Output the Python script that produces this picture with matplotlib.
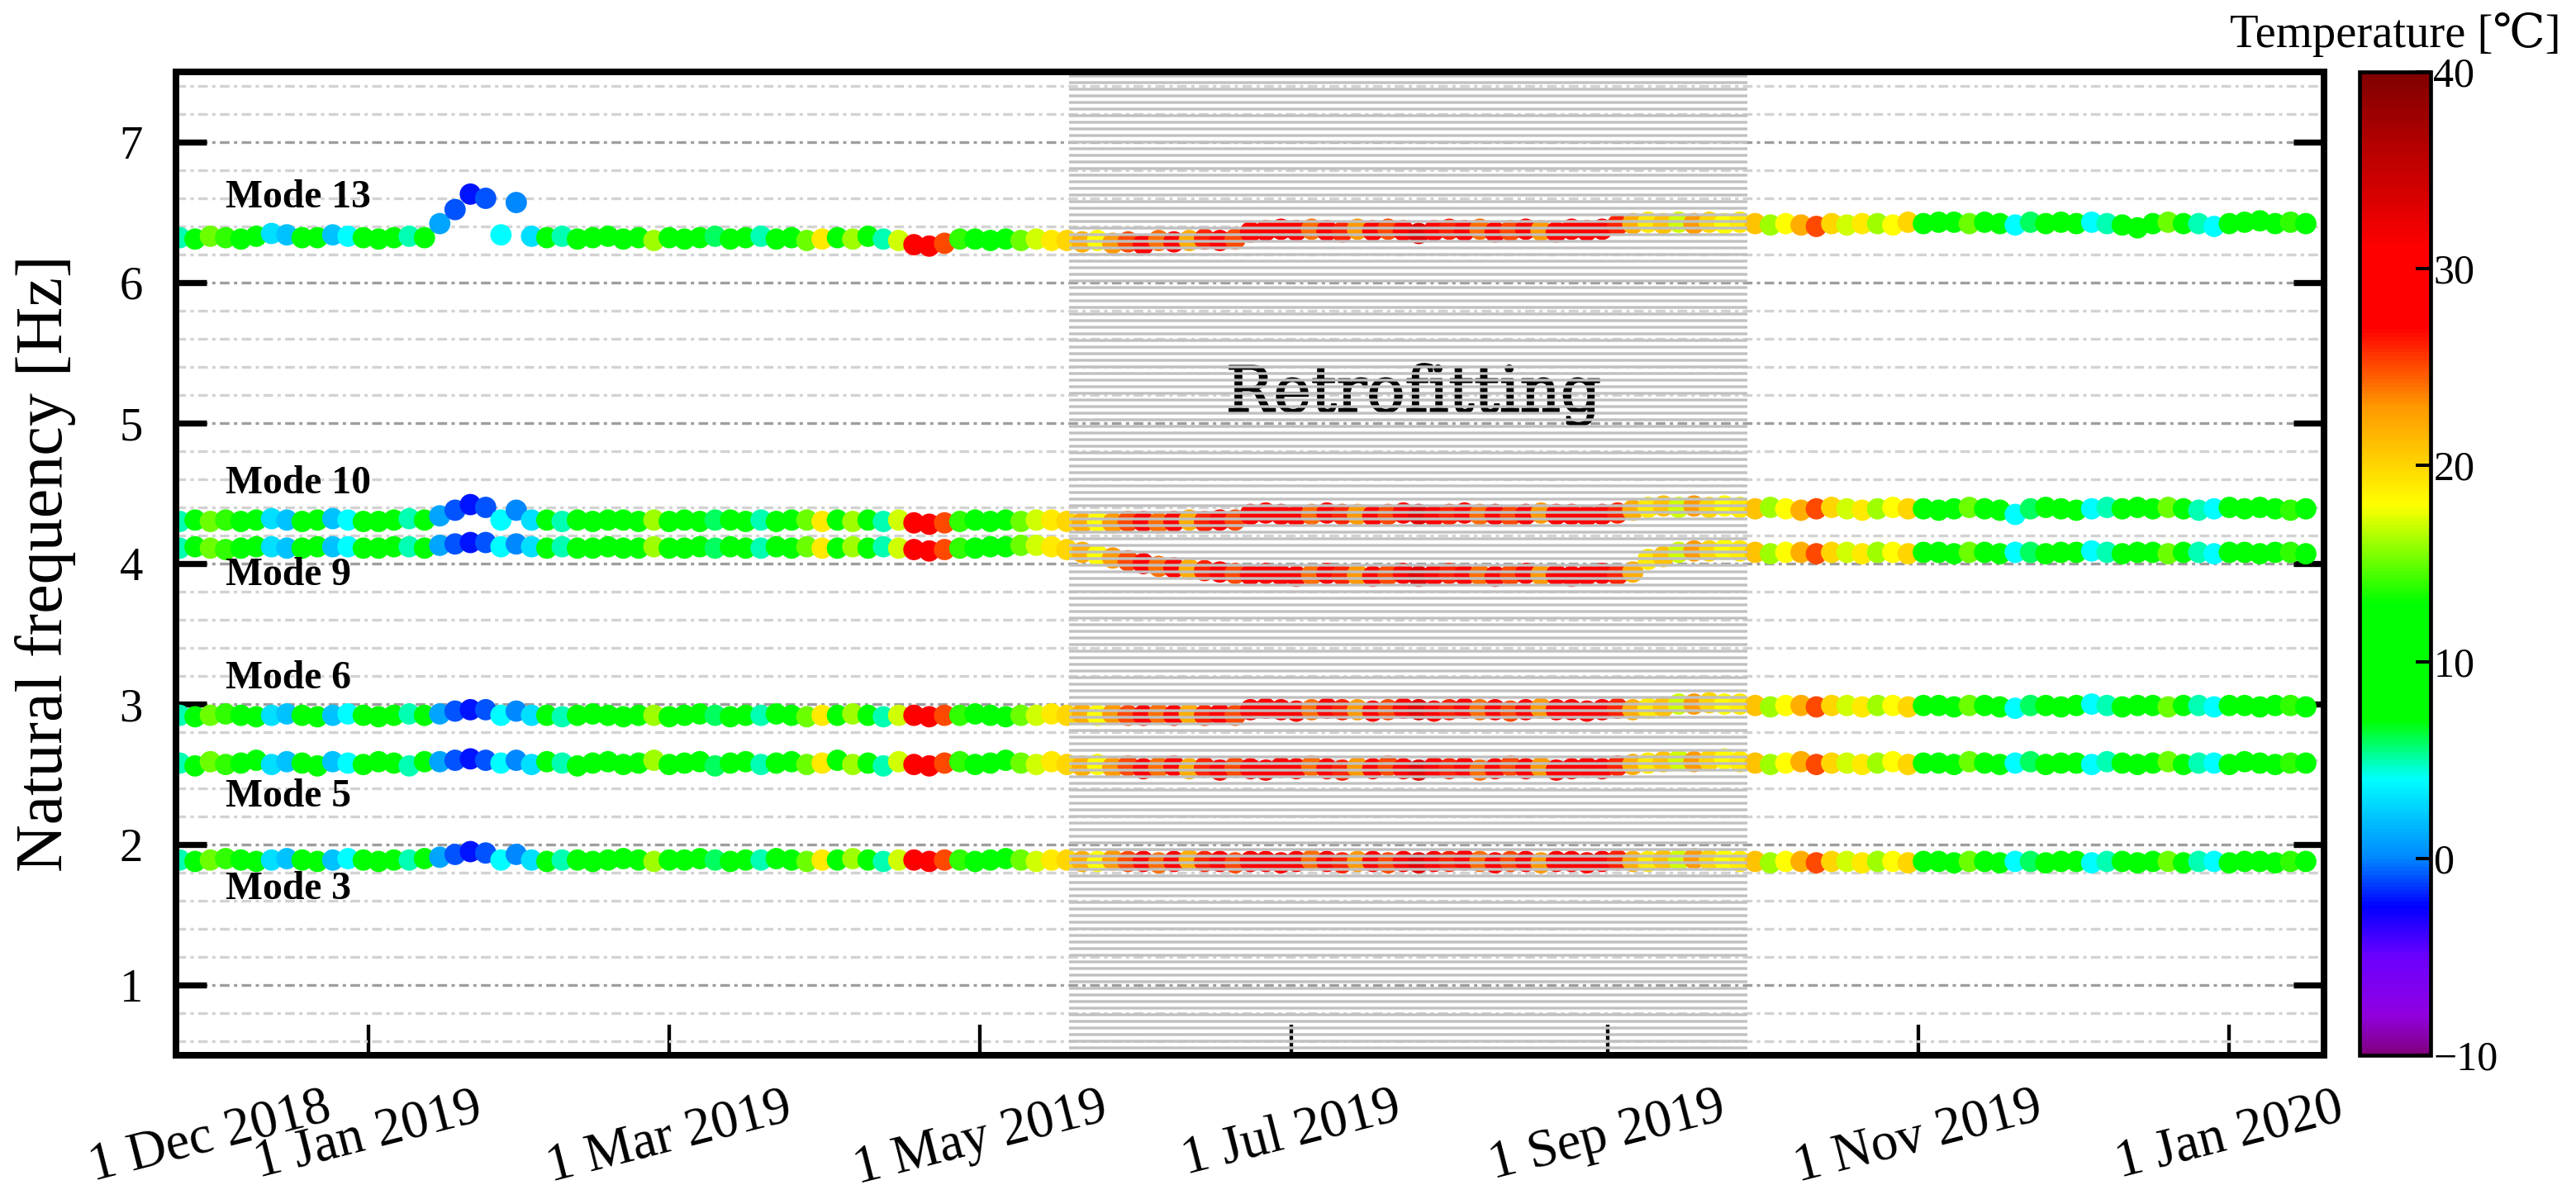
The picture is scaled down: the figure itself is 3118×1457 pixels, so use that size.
import matplotlib
matplotlib.use('Agg')
import matplotlib.pyplot as plt
import matplotlib.patheffects as pe
import pandas as pd
from datetime import datetime
from matplotlib.colors import LinearSegmentedColormap, Normalize
from matplotlib.ticker import MultipleLocator

# ---- data (one sample every 3 days, 25 Nov 2018 -> 16 Jan 2020) ----
temperature = [
    5, 11, 15, 14, 10, 11, 3, 2, 10, 12,
    2, 4, 10, 11, 8, 5, 10, 1, -1, -2,
    -1, 4, 0, 3, 7, 5, 11, 7, 10, 12,
    11, 16, 10, 12, 11, 6, 11, 13, 5, 12,
    11, 15, 19, 12, 16, 11, 5, 17, 29, 30,
    25, 14, 12, 11, 13, 15, 17, 19, 20, 22,
    18, 23, 25, 29, 24, 27, 22, 26, 28, 25,
    30, 31, 29, 27, 24, 28, 26, 23, 27, 25,
    30, 33, 29, 26, 28, 24, 27, 25, 28, 23,
    27, 30, 31, 29, 26, 22, 19, 21, 17, 23,
    20, 18, 19, 21, 16, 18, 22, 25, 20, 17,
    19, 16, 18, 20, 11, 13, 10, 15, 11, 9,
    4, 6, 10, 11, 8, 4, 5, 10, 11, 9,
    15, 12, 5, 4, 10, 11, 13, 10, 14, 11,
]

mode13 = [
    6.32, 6.31, 6.33, 6.32, 6.31, 6.33, 6.35, 6.34, 6.32, 6.32,
    6.34, 6.33, 6.32, 6.31, 6.32, 6.33, 6.32, 6.42, 6.52, 6.63,
    6.60, 6.34, 6.57, 6.33, 6.32, 6.33, 6.31, 6.32, 6.33, 6.31,
    6.32, 6.30, 6.32, 6.31, 6.32, 6.33, 6.31, 6.32, 6.33, 6.31,
    6.32, 6.30, 6.31, 6.32, 6.31, 6.33, 6.31, 6.30, 6.27, 6.26,
    6.28, 6.31, 6.31, 6.30, 6.31, 6.30, 6.31, 6.30, 6.30, 6.29,
    6.30, 6.28, 6.29, 6.27, 6.30, 6.29, 6.30, 6.31, 6.30, 6.31,
    6.36, 6.37, 6.38, 6.37, 6.38, 6.37, 6.36, 6.38, 6.37, 6.38,
    6.37, 6.35, 6.37, 6.38, 6.37, 6.38, 6.36, 6.37, 6.38, 6.37,
    6.36, 6.38, 6.37, 6.38, 6.41, 6.42, 6.43, 6.42, 6.43, 6.42,
    6.43, 6.42, 6.43, 6.42, 6.41, 6.42, 6.41, 6.40, 6.42, 6.41,
    6.42, 6.42, 6.41, 6.43, 6.42, 6.43, 6.43, 6.42, 6.43, 6.42,
    6.41, 6.43, 6.42, 6.43, 6.42, 6.43, 6.42, 6.41, 6.39, 6.42,
    6.43, 6.42, 6.42, 6.40, 6.42, 6.43, 6.44, 6.42, 6.43, 6.42,
]

mode10 = [
    4.30, 4.31, 4.30, 4.31, 4.30, 4.31, 4.32, 4.31, 4.30, 4.31,
    4.32, 4.31, 4.30, 4.30, 4.31, 4.32, 4.31, 4.34, 4.38, 4.42,
    4.40, 4.31, 4.38, 4.31, 4.31, 4.30, 4.31, 4.30, 4.31, 4.31,
    4.30, 4.31, 4.30, 4.31, 4.30, 4.31, 4.31, 4.30, 4.31, 4.30,
    4.31, 4.31, 4.30, 4.31, 4.30, 4.31, 4.30, 4.31, 4.29, 4.28,
    4.29, 4.30, 4.31, 4.30, 4.31, 4.30, 4.31, 4.31, 4.30, 4.29,
    4.30, 4.29, 4.30, 4.30, 4.29, 4.30, 4.31, 4.30, 4.31, 4.31,
    4.35, 4.36, 4.35, 4.34, 4.35, 4.36, 4.35, 4.35, 4.34, 4.35,
    4.36, 4.35, 4.34, 4.35, 4.36, 4.35, 4.35, 4.34, 4.35, 4.36,
    4.35, 4.35, 4.34, 4.35, 4.36, 4.38, 4.40, 4.41, 4.40, 4.41,
    4.40, 4.41, 4.40, 4.39, 4.40, 4.39, 4.38, 4.39, 4.40, 4.39,
    4.38, 4.39, 4.40, 4.39, 4.39, 4.38, 4.39, 4.40, 4.39, 4.38,
    4.35, 4.39, 4.40, 4.39, 4.38, 4.39, 4.40, 4.39, 4.40, 4.39,
    4.40, 4.39, 4.38, 4.39, 4.40, 4.39, 4.40, 4.39, 4.38, 4.39,
]

mode9 = [
    4.11, 4.12, 4.11, 4.10, 4.11, 4.12, 4.12, 4.11, 4.11, 4.12,
    4.12, 4.12, 4.11, 4.11, 4.12, 4.12, 4.11, 4.13, 4.14, 4.15,
    4.15, 4.12, 4.14, 4.12, 4.11, 4.12, 4.11, 4.11, 4.12, 4.11,
    4.11, 4.12, 4.11, 4.11, 4.12, 4.11, 4.12, 4.11, 4.11, 4.12,
    4.11, 4.12, 4.11, 4.11, 4.12, 4.11, 4.12, 4.11, 4.10, 4.09,
    4.10, 4.11, 4.11, 4.12, 4.12, 4.13, 4.13, 4.12, 4.10, 4.08,
    4.06, 4.04, 4.02, 4.00, 3.98, 3.97, 3.96, 3.95, 3.94, 3.93,
    3.92, 3.93, 3.92, 3.91, 3.92, 3.93, 3.92, 3.92, 3.91, 3.92,
    3.93, 3.91, 3.92, 3.93, 3.92, 3.92, 3.91, 3.92, 3.93, 3.92,
    3.92, 3.91, 3.92, 3.93, 3.92, 3.94, 4.03, 4.05, 4.08, 4.09,
    4.09, 4.10, 4.09, 4.08, 4.07, 4.08, 4.08, 4.07, 4.08, 4.08,
    4.07, 4.08, 4.08, 4.07, 4.08, 4.08, 4.07, 4.08, 4.08, 4.07,
    4.08, 4.08, 4.07, 4.08, 4.08, 4.09, 4.08, 4.07, 4.08, 4.08,
    4.07, 4.08, 4.08, 4.07, 4.08, 4.08, 4.07, 4.08, 4.08, 4.07,
]

mode6 = [
    2.92, 2.91, 2.92, 2.93, 2.92, 2.91, 2.92, 2.93, 2.92, 2.91,
    2.92, 2.93, 2.92, 2.91, 2.92, 2.93, 2.92, 2.93, 2.95, 2.96,
    2.96, 2.92, 2.95, 2.92, 2.92, 2.91, 2.92, 2.93, 2.92, 2.91,
    2.92, 2.92, 2.91, 2.92, 2.93, 2.92, 2.91, 2.92, 2.92, 2.93,
    2.92, 2.91, 2.92, 2.92, 2.93, 2.92, 2.91, 2.92, 2.92, 2.91,
    2.92, 2.92, 2.93, 2.92, 2.91, 2.92, 2.92, 2.93, 2.92, 2.93,
    2.92, 2.93, 2.92, 2.92, 2.93, 2.92, 2.93, 2.92, 2.93, 2.92,
    2.96, 2.97, 2.96, 2.95, 2.96, 2.97, 2.96, 2.96, 2.95, 2.96,
    2.97, 2.96, 2.95, 2.96, 2.97, 2.96, 2.96, 2.95, 2.96, 2.97,
    2.96, 2.96, 2.95, 2.96, 2.97, 2.96, 2.97, 2.98, 3.00, 3.00,
    3.01, 3.00, 3.00, 2.99, 2.98, 2.99, 2.99, 2.98, 2.99, 2.99,
    2.98, 2.99, 2.99, 2.98, 2.99, 2.99, 2.98, 2.99, 2.99, 2.98,
    2.97, 2.99, 2.99, 2.98, 2.99, 3.00, 2.99, 2.98, 2.99, 2.99,
    2.98, 2.99, 2.99, 2.98, 2.99, 2.99, 2.98, 2.99, 2.99, 2.98,
]

mode5 = [
    2.58, 2.56, 2.59, 2.57, 2.58, 2.60, 2.57, 2.59, 2.58, 2.56,
    2.59, 2.58, 2.57, 2.59, 2.58, 2.56, 2.59, 2.59, 2.60, 2.61,
    2.60, 2.58, 2.60, 2.57, 2.59, 2.58, 2.56, 2.58, 2.59, 2.57,
    2.58, 2.60, 2.57, 2.58, 2.59, 2.56, 2.58, 2.59, 2.57, 2.58,
    2.59, 2.57, 2.58, 2.60, 2.57, 2.58, 2.56, 2.59, 2.57, 2.56,
    2.58, 2.59, 2.57, 2.58, 2.60, 2.58, 2.57, 2.59, 2.57, 2.56,
    2.57, 2.55, 2.56, 2.54, 2.55, 2.56, 2.54, 2.55, 2.53, 2.55,
    2.54, 2.53, 2.55, 2.54, 2.56, 2.54, 2.53, 2.55, 2.54, 2.56,
    2.54, 2.53, 2.55, 2.54, 2.55, 2.53, 2.54, 2.56, 2.54, 2.55,
    2.53, 2.54, 2.55, 2.54, 2.56, 2.57, 2.58, 2.59, 2.60, 2.59,
    2.60, 2.61, 2.59, 2.58, 2.57, 2.58, 2.59, 2.57, 2.58, 2.58,
    2.57, 2.58, 2.59, 2.57, 2.58, 2.58, 2.57, 2.59, 2.58, 2.57,
    2.58, 2.59, 2.57, 2.58, 2.58, 2.57, 2.59, 2.58, 2.57, 2.58,
    2.59, 2.57, 2.58, 2.58, 2.57, 2.59, 2.58, 2.57, 2.58, 2.58,
]

mode3 = [
    1.89, 1.88, 1.89, 1.90, 1.89, 1.88, 1.89, 1.90, 1.89, 1.88,
    1.89, 1.90, 1.89, 1.88, 1.89, 1.89, 1.90, 1.91, 1.93, 1.95,
    1.94, 1.89, 1.93, 1.89, 1.88, 1.89, 1.89, 1.88, 1.89, 1.90,
    1.89, 1.88, 1.89, 1.89, 1.90, 1.89, 1.88, 1.89, 1.89, 1.90,
    1.89, 1.88, 1.89, 1.89, 1.90, 1.89, 1.88, 1.89, 1.89, 1.88,
    1.89, 1.89, 1.88, 1.89, 1.90, 1.89, 1.88, 1.89, 1.89, 1.88,
    1.88, 1.89, 1.88, 1.88, 1.87, 1.88, 1.89, 1.88, 1.88, 1.87,
    1.88, 1.88, 1.87, 1.88, 1.89, 1.88, 1.87, 1.88, 1.88, 1.87,
    1.88, 1.87, 1.88, 1.88, 1.89, 1.88, 1.87, 1.88, 1.88, 1.87,
    1.88, 1.88, 1.87, 1.88, 1.89, 1.88, 1.88, 1.89, 1.89, 1.90,
    1.89, 1.89, 1.88, 1.88, 1.87, 1.88, 1.88, 1.87, 1.88, 1.88,
    1.87, 1.88, 1.88, 1.87, 1.88, 1.88, 1.87, 1.88, 1.88, 1.87,
    1.88, 1.88, 1.87, 1.88, 1.88, 1.87, 1.88, 1.88, 1.87, 1.88,
    1.88, 1.87, 1.88, 1.88, 1.87, 1.88, 1.88, 1.87, 1.88, 1.88,
]

modes = [mode13, mode10, mode9, mode6, mode5, mode3]
mode_names = ['Mode 13', 'Mode 10', 'Mode 9', 'Mode 6', 'Mode 5', 'Mode 3']
mode_label_y = [6.535, 4.50, 3.845, 3.11, 2.27, 1.61]

xtick_dates = [datetime(2018, 12, 1), datetime(2019, 1, 1), datetime(2019, 3, 1),
               datetime(2019, 5, 1), datetime(2019, 7, 1), datetime(2019, 9, 1),
               datetime(2019, 11, 1), datetime(2020, 1, 1)]
xtick_labels = ['1 Dec 2018', '1 Jan 2019', '1 Mar 2019', '1 May 2019',
                '1 Jul 2019', '1 Sep 2019', '1 Nov 2019', '1 Jan 2020']

retrofit_start = datetime(2019, 5, 18, 10)
retrofit_end = datetime(2019, 9, 28, 12)

cbar_ticks = [-10, 0, 10, 20, 30, 40]
cmap_values = [-10, -8, -5, -2.5, 0, 4, 7, 13, 18, 23, 27, 31, 40]
cmap_colors = ['#800080', '#9000e0', '#6a00ff', '#0000ff', '#0088ff', '#00ffff',
               '#00ff00', '#00ff00', '#ffff00', '#ff9900', '#ff0000', '#ff0000',
               '#800000']

dates = pd.date_range('2018-11-25', periods=len(temperature), freq='3D').to_pydatetime()

# ---- style ----
plt.rcParams['font.family'] = ['Liberation Serif', 'DejaVu Serif', 'DejaVu Sans']
plt.rcParams['hatch.linewidth'] = 1.0

vmin, vmax = cmap_values[0], cmap_values[-1]
nodes = [(v - vmin) / (vmax - vmin) for v in cmap_values]
cmap = LinearSegmentedColormap.from_list('temp', list(zip(nodes, cmap_colors)))
norm = Normalize(vmin=vmin, vmax=vmax)

DPI = 240
fig = plt.figure(figsize=(3118 / DPI, 1457 / DPI), dpi=DPI)
ax = fig.add_axes([0.0683, 0.1235, 0.8339, 0.8168])
cax = fig.add_axes([0.9160, 0.1235, 0.0276, 0.8168])

for f in modes:
    sc = ax.scatter(dates, f, c=temperature, cmap=cmap, norm=norm,
                    s=60, linewidths=0, zorder=3)

ax.text(datetime(2019, 7, 25), 5.08, 'Retrofitting', fontsize=23,
        family='DejaVu Serif', ha='center', va='baseline', zorder=3.5,
        path_effects=[pe.withStroke(linewidth=0.6, foreground='black')])
ax.axvspan(retrofit_start, retrofit_end, facecolor='none', edgecolor='#c0c0c0',
           hatch='-----', linewidth=0, zorder=4)

for name, y in zip(mode_names, mode_label_y):
    ax.text(datetime(2018, 12, 4), y, name, fontsize=14.3, fontweight='bold',
            ha='left', va='baseline', zorder=6)

ax.set_xlim(datetime(2018, 11, 24, 6), datetime(2020, 1, 19, 14))
ax.set_ylim(0.5, 7.5)
ax.set_xticks(xtick_dates)
ax.set_xticklabels(xtick_labels, rotation=14.3, ha='center', fontsize=19.5)
ax.xaxis.get_major_ticks()[0].tick1line.set_visible(False)
ax.set_yticks([1, 2, 3, 4, 5, 6, 7])
ax.yaxis.set_minor_locator(MultipleLocator(0.2))

ax.tick_params(axis='x', direction='in', length=11, width=1.3, pad=10, top=False)
ax.tick_params(axis='y', which='major', direction='in', length=11, width=2.2,
               labelsize=17, pad=12, left=True, right=True)
ax.tick_params(axis='y', which='minor', length=0)

dash = (0, (3.5, 1.6, 1.2, 1.6))
ax.set_axisbelow(True)
ax.grid(True, which='major', axis='y', color='#9e9e9e', lw=1.0, linestyle=dash)
ax.grid(True, which='minor', axis='y', color='#d2d2d2', lw=1.0, linestyle=dash)
ax.xaxis.grid(False)

for s in ax.spines.values():
    s.set_linewidth(2.4)
    s.set_zorder(5)

ax.set_ylabel('Natural frequency [Hz]', fontsize=24)
ax.yaxis.set_label_coords(-0.0465, 0.5)

cbar = fig.colorbar(sc, cax=cax, ticks=cbar_ticks)
cbar.outline.set_linewidth(1.4)
cax.tick_params(direction='in', length=5.5, width=1.2, labelsize=15, pad=1)
cax.set_title('Temperature [℃]', fontsize=17, pad=9)

fig.savefig('out.png', dpi=DPI)
